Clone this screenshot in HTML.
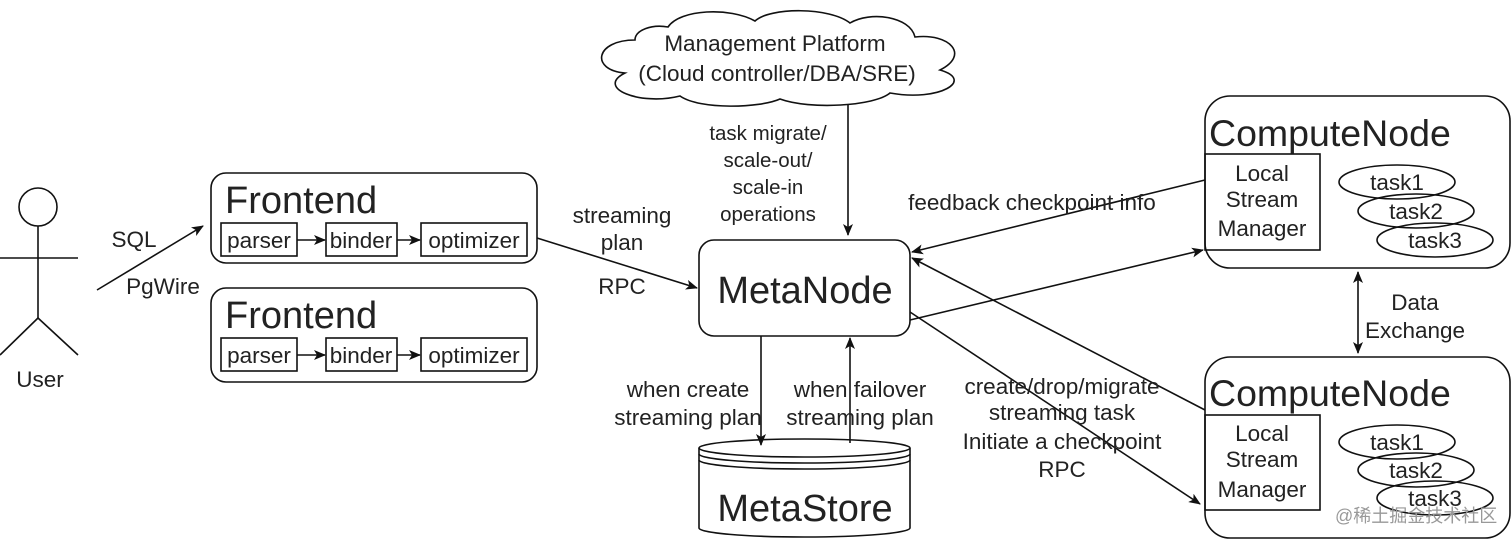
<!DOCTYPE html>
<html><head><meta charset="utf-8"><style>body{margin:0;background:#fff}svg{display:block}text{font-family:"Liberation Sans","Noto Sans CJK SC",sans-serif;fill:#222}</style></head>
<body>
<svg width="1512" height="541" viewBox="0 0 1512 541" xmlns="http://www.w3.org/2000/svg">
<defs><marker id="a" markerWidth="12" markerHeight="10" refX="11" refY="5" orient="auto" markerUnits="userSpaceOnUse"><path d="M0,0 L12,5 L0,10 L3,5 z" fill="#111"/></marker>
<marker id="s" markerWidth="12" markerHeight="10" refX="1" refY="5" orient="auto" markerUnits="userSpaceOnUse"><path d="M12,0 L0,5 L12,10 L9,5 z" fill="#111"/></marker></defs>
<g stroke="#111" stroke-width="1.6" fill="none">
<circle cx="38" cy="207" r="19"/>
<line x1="0" y1="258" x2="78" y2="258"/><line x1="38" y1="226" x2="38" y2="318"/>
<line x1="38" y1="318" x2="0" y2="355"/><line x1="38" y1="318" x2="78" y2="355"/>
<line x1="97" y1="290" x2="203" y2="226" marker-end="url(#a)"/>
<rect x="211" y="173" width="326" height="90" rx="15"/>
<rect x="221" y="223" width="76" height="33"/><rect x="326" y="223" width="71" height="33"/><rect x="421" y="223" width="106" height="33"/>
<line x1="297" y1="240" x2="325" y2="240" marker-end="url(#a)"/><line x1="397" y1="240" x2="420" y2="240" marker-end="url(#a)"/>
<rect x="211" y="288" width="326" height="94" rx="15"/>
<rect x="221" y="338" width="76" height="33"/><rect x="326" y="338" width="71" height="33"/><rect x="421" y="338" width="106" height="33"/>
<line x1="297" y1="355" x2="325" y2="355" marker-end="url(#a)"/><line x1="397" y1="355" x2="420" y2="355" marker-end="url(#a)"/>
<line x1="537" y1="238" x2="697" y2="288" marker-end="url(#a)"/>
<path d="M635,40 C595,40 590,70 625,73 C595,88 640,106 680,96 C700,110 760,108 780,99 C810,110 875,106 890,93 C940,102 975,80 940,70 C970,55 950,33 915,37 C910,16 870,11 850,23 C830,7 770,7 755,21 C730,7 680,9 668,27 C652,24 635,30 635,40 z"/>
<line x1="848" y1="105" x2="848" y2="235" marker-end="url(#a)"/>
<rect x="699" y="240" width="211" height="96" rx="15"/>
<line x1="761" y1="336" x2="761" y2="445" marker-end="url(#a)"/>
<line x1="850" y1="443" x2="850" y2="338" marker-end="url(#a)"/>
<path d="M699,448 L699,528 A105.5,9 0 0 0 910,528 L910,448"/>
<ellipse cx="804.5" cy="448" rx="105.5" ry="9"/>
<path d="M699,454 A105.5,9 0 0 0 910,454"/><path d="M699,460 A105.5,9 0 0 0 910,460"/>
<rect x="1205" y="96" width="305" height="172" rx="25"/>
<rect x="1205" y="154" width="115" height="96"/>
<ellipse cx="1397" cy="182" rx="58" ry="17"/><ellipse cx="1416" cy="211" rx="58" ry="17"/><ellipse cx="1435" cy="240" rx="58" ry="17"/>
<rect x="1205" y="357" width="305" height="181" rx="25"/>
<rect x="1205" y="415" width="115" height="95"/>
<ellipse cx="1397" cy="442" rx="58" ry="17"/><ellipse cx="1416" cy="470" rx="58" ry="17"/><ellipse cx="1435" cy="498" rx="58" ry="17"/>
<line x1="1358" y1="272" x2="1358" y2="353" marker-end="url(#a)" marker-start="url(#s)"/>
<line x1="1205" y1="180" x2="912" y2="252" marker-end="url(#a)"/>
<line x1="910" y1="320" x2="1203" y2="250" marker-end="url(#a)"/>
<line x1="1205" y1="410" x2="912" y2="258" marker-end="url(#a)"/>
<line x1="910" y1="312" x2="1200" y2="504" marker-end="url(#a)"/>
</g>
<g font-size="22.5" text-anchor="middle">
<text x="40" y="387">User</text>
<text x="134" y="247">SQL</text><text x="163" y="294">PgWire</text>
<text x="259" y="248">parser</text><text x="361" y="248">binder</text><text x="474" y="248">optimizer</text>
<text x="259" y="363">parser</text><text x="361" y="363">binder</text><text x="474" y="363">optimizer</text>
<text x="622" y="223">streaming</text><text x="622" y="250">plan</text><text x="622" y="294">RPC</text>
<text x="775" y="51">Management Platform</text><text x="777" y="81">(Cloud controller/DBA/SRE)</text>
<text x="688" y="397">when create</text><text x="688" y="425">streaming plan</text>
<text x="860" y="397">when failover</text><text x="860" y="425">streaming plan</text>
<text x="1032" y="210">feedback checkpoint info</text>
<text x="1062" y="394">create/drop/migrate</text><text x="1062" y="420">streaming task</text><text x="1062" y="449">Initiate a checkpoint</text><text x="1062" y="477">RPC</text>
<text x="1262" y="181">Local</text><text x="1262" y="207">Stream</text><text x="1262" y="236">Manager</text>
<text x="1262" y="441">Local</text><text x="1262" y="467">Stream</text><text x="1262" y="497">Manager</text>
<text x="1397" y="190">task1</text><text x="1416" y="219">task2</text><text x="1435" y="248">task3</text>
<text x="1397" y="450">task1</text><text x="1416" y="478">task2</text><text x="1435" y="506">task3</text>
<text x="1415" y="310">Data</text><text x="1415" y="338">Exchange</text>
</g>
<g font-size="20.5" text-anchor="middle">
<text x="768" y="140">task migrate/</text><text x="768" y="167">scale-out/</text><text x="768" y="194">scale-in</text><text x="768" y="221">operations</text>
</g>
<text x="225" y="213" font-size="38">Frontend</text>
<text x="225" y="328" font-size="38">Frontend</text>
<text x="805" y="303" font-size="38" text-anchor="middle">MetaNode</text>
<text x="805" y="521" font-size="38" text-anchor="middle">MetaStore</text>
<text x="1209" y="146" font-size="37.5">ComputeNode</text>
<text x="1209" y="406" font-size="37.5">ComputeNode</text>
<text x="1335" y="522" font-size="18" style="fill:#999">@稀土掘金技术社区</text>
</svg>
</body></html>
